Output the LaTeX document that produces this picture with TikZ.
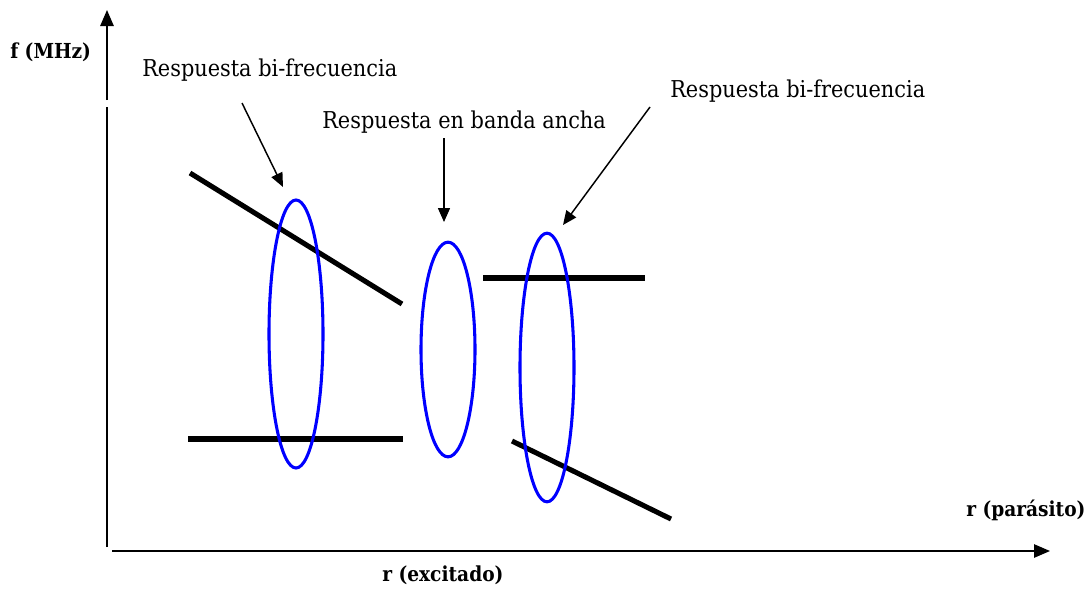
\documentclass[tikz,border=0pt]{standalone}
\usepackage{fontspec}
\setmainfont{DejaVu Serif Condensed}
\usetikzlibrary{arrows.meta,shapes.geometric}
\begin{document}
\begin{tikzpicture}[x=0.75pt,y=-0.75pt,
  lbl/.style={font=\fontsize{17.4}{20}\selectfont, inner sep=0pt, anchor=base west},
  axlbl/.style={font=\bfseries\fontsize{15.5}{18}\selectfont, inner sep=0pt, anchor=base west},
  resp/.style={draw=blue, line width=2.3pt, ellipse, inner sep=0pt},
  bar/.style={line width=3.8pt, black},
  pointer/.style={line width=1.1pt, -{Triangle[length=10.5pt,width=9pt]}},
  axis/.style={line width=1.3pt, -{Triangle[length=12pt,width=10pt]}}
]
\useasboundingbox (0,0) rectangle (1089,590);
\fill[white] (0,0) rectangle (1089,590);

% axes
\coordinate (o1) at (107,547);
\coordinate (ygap) at (107,107);
\coordinate (ygap2) at (107,100);
\coordinate (ytip) at (107,10);
\coordinate (o2) at (112,551);
\coordinate (xtip) at (1050,551);
\draw[line width=1.3pt] (o1) -- (ygap);
\draw[axis] (ygap2) -- (ytip);
\draw[axis] (o2) -- (xtip);

% axis labels
\node[axlbl] (fl) at (10,58) {f (MHz)};
\node[axlbl] (rp) at (966,516) {r (parásito)};
\node[axlbl] (re) at (382,581) {r (excitado)};

% black response lines
\coordinate (a1) at (190,173); \coordinate (a2) at (402,304);
\coordinate (b1) at (188,439); \coordinate (b2) at (403,439);
\coordinate (c1) at (483,278); \coordinate (c2) at (645,278);
\coordinate (d1) at (512,441); \coordinate (d2) at (671,519);
\draw[bar] (a1) -- (a2);
\draw[bar] (b1) -- (b2);
\draw[bar] (c1) -- (c2);
\draw[bar] (d1) -- (d2);

% ellipses
\node[resp, minimum width=40.5pt, minimum height=201pt] (e1) at (296,334) {};
\node[resp, minimum width=40.5pt, minimum height=161pt] (e2) at (448,349.5) {};
\node[resp, minimum width=40.5pt, minimum height=201.5pt] (e3) at (547,367.5) {};

% labels
\node[lbl] (t1) at (142,76) {Respuesta bi-frecuencia};
\node[lbl] (t2) at (322,128) {Respuesta en banda ancha};
\node[lbl] (t3) at (670,97) {Respuesta bi-frecuencia};

% pointers
\coordinate (p1s) at (242,103); \coordinate (p1e) at (283,187);
\coordinate (p2s) at (444,138); \coordinate (p2e) at (444,222);
\coordinate (p3s) at (650,107); \coordinate (p3e) at (563,225);
\draw[pointer] (p1s) -- (p1e);
\draw[pointer] (p2s) -- (p2e);
\draw[pointer] (p3s) -- (p3e);
\end{tikzpicture}
\end{document}
